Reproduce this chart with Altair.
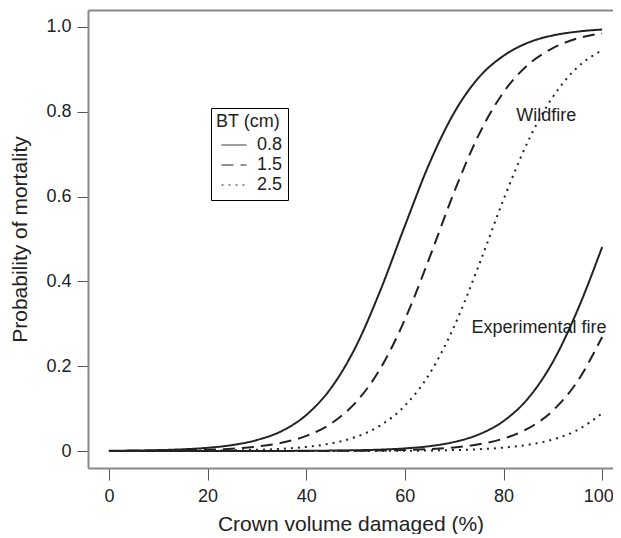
import altair as alt
import pandas as pd

FONT = "Liberation Sans"
INK = "#222222"

# Crown volume damaged (%) at which the curves were read
cvs = [0, 5, 10, 15, 20, 25, 30, 35, 40, 45, 50, 55, 60, 65, 70, 75, 80, 85, 90, 95, 100]

# Wildfire curves (probability of mortality)
wild_08 = [0.0006, 0.0012, 0.0022, 0.0041, 0.0076, 0.0141, 0.026, 0.047, 0.085, 0.148, 0.245,
           0.378, 0.531, 0.679, 0.798, 0.881, 0.932, 0.963, 0.980, 0.989, 0.994]
wild_15 = [0.0003, 0.0005, 0.0009, 0.0016, 0.003, 0.0056, 0.0105, 0.0194, 0.0356, 0.0645, 0.114,
           0.194, 0.310, 0.456, 0.611, 0.746, 0.846, 0.911, 0.950, 0.973, 0.985]
wild_25 = [0.0001, 0.0001, 0.0002, 0.0004, 0.0008, 0.0015, 0.0028, 0.0052, 0.0097, 0.018, 0.033,
           0.060, 0.107, 0.182, 0.294, 0.438, 0.593, 0.731, 0.835, 0.905, 0.945]

# Experimental fire curves
exp_08 = [0.0, 0.0, 0.0, 0.0, 0.0, 0.0001, 0.0001, 0.0003, 0.0005, 0.001, 0.0018,
          0.0033, 0.0062, 0.0115, 0.0214, 0.0392, 0.0707, 0.1245, 0.210, 0.332, 0.481]
exp_15 = [0.0, 0.0, 0.0, 0.0, 0.0, 0.0, 0.0, 0.0001, 0.0002, 0.0004, 0.0007,
          0.0013, 0.0025, 0.0046, 0.0086, 0.0159, 0.0293, 0.0534, 0.0953, 0.1645, 0.269]
exp_25 = [0.0, 0.0, 0.0, 0.0, 0.0, 0.0, 0.0, 0.0, 0.0, 0.0001, 0.0002,
          0.0004, 0.0007, 0.0012, 0.0023, 0.0043, 0.008, 0.0148, 0.0272, 0.0497, 0.089]

bt_levels = ["0.8", "1.5", "2.5"]
fires = ["Wildfire", "Experimental fire"]

# Annotation labels
ann_text = ["Wildfire", "Experimental fire"]
ann_x = [82.6, 73.5]
ann_y = [0.79, 0.29]

series = [
    ("Wildfire", "0.8", wild_08), ("Wildfire", "1.5", wild_15), ("Wildfire", "2.5", wild_25),
    ("Experimental fire", "0.8", exp_08), ("Experimental fire", "1.5", exp_15),
    ("Experimental fire", "2.5", exp_25),
]
rows = []
for fire, bt, vals in series:
    for x, p in zip(cvs, vals):
        rows.append({"fire": fire, "bt": bt, "cvs": x, "p": p})
df = pd.DataFrame(rows)
ann_df = pd.DataFrame({"label": ann_text, "x": ann_x, "y": ann_y})

xscale = alt.Scale(domain=[-4.25, 102.2], nice=False, zero=False)
yscale = alt.Scale(domain=[-0.04, 1.04], nice=False, zero=False)

lines = alt.Chart(df).mark_line(color=INK, strokeWidth=2, interpolate="monotone").encode(
    x=alt.X("cvs:Q", scale=xscale,
            axis=alt.Axis(values=[0, 20, 40, 60, 80, 100], title="Crown volume damaged (%)",
                          tickSize=12, labelPadding=7, titlePadding=8,
                          labelOffset={"condition": {"test": "datum.value == 100", "value": -4},
                                       "value": 0})),
    y=alt.Y("p:Q", scale=yscale,
            axis=alt.Axis(values=[0, 0.2, 0.4, 0.6, 0.8, 1.0], title="Probability of mortality",
                          labelExpr="datum.value == 0 ? '0' : format(datum.value, '.1f')",
                          tickSize=11, labelPadding=6, titlePadding=15)),
    strokeDash=alt.StrokeDash(
        "bt:N",
        scale=alt.Scale(domain=bt_levels, range=[[1, 0], [12, 7], [2, 5]]),
        legend=alt.Legend(title="BT (cm)", orient="none", legendX=123, legendY=98,
                          direction="vertical", strokeColor="black", fillColor="white",
                          padding=5, symbolType="stroke", symbolSize=625,
                          symbolStrokeWidth=1, symbolStrokeColor=INK, symbolOffset=5,
                          labelOffset=10, labelFontSize=18, titleFontSize=18,
                          titleFontWeight="normal", titlePadding=4, clipHeight=20,
                          rowPadding=0, labelFont=FONT, titleFont=FONT,
                          labelColor=INK, titleColor=INK),
    ),
    detail="fire:N",
)

ann = alt.Chart(ann_df).mark_text(align="left", baseline="middle", font=FONT, fontSize=18,
                                  color=INK).encode(
    x=alt.X("x:Q", scale=xscale,
            axis=alt.Axis(orient="top", labels=False, ticks=False, title=None)),
    y=alt.Y("y:Q", scale=yscale),
    text="label:N",
)

chart = alt.layer(lines, ann).resolve_axis(x="independent").properties(
    width=525, height=458,
    autosize=alt.AutoSizeParams(type="none"),
    padding={"left": 80, "top": 2, "right": 0, "bottom": 66},
).configure_view(stroke=None).configure_axis(
    grid=False, domainColor="#888888", domainWidth=2, tickColor="#555555", tickWidth=1,
    labelFont=FONT, titleFont=FONT, labelFontSize=18, titleFontSize=21,
    labelColor=INK, titleColor=INK, titleFontWeight="normal",
)

chart.save("out.html", embed_options={"renderer": "svg", "actions": False})
